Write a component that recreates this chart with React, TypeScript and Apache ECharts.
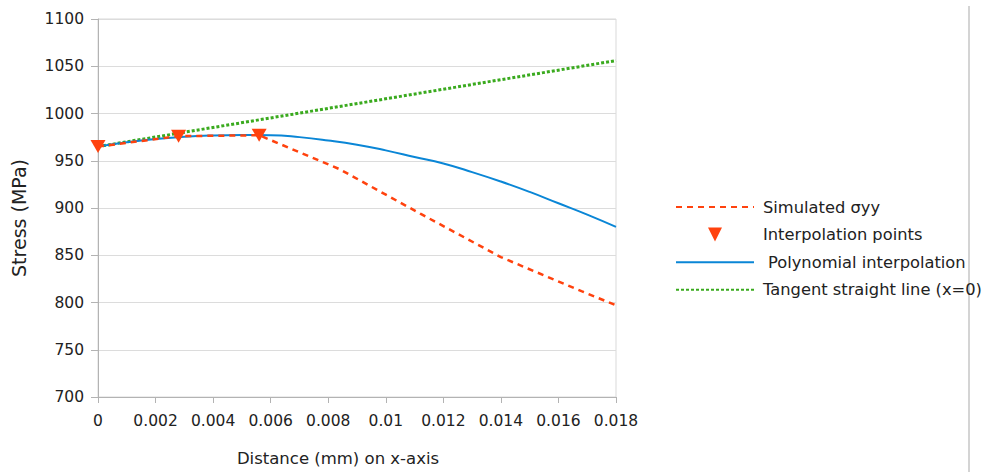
import React, { useEffect, useRef } from "react";
import * as echarts from "echarts";

const xTicks = [0, 0.002, 0.004, 0.006, 0.008, 0.01, 0.012, 0.014, 0.016, 0.018];
const simX = [0, 0.0028, 0.0056, 0.0084, 0.0112, 0.014, 0.0168, 0.018];
const simY = [965, 976, 977, 941, 894, 848, 812, 797];
const interpX = [0, 0.0028, 0.0056];
const interpY = [965, 976, 977];
const polyX = [0, 0.001, 0.002, 0.003, 0.004, 0.005, 0.006, 0.007, 0.008, 0.009, 0.01, 0.011, 0.012, 0.013, 0.014, 0.015, 0.016, 0.017, 0.018];
const polyY = [965, 969.5, 973, 975.5, 976.8, 977.2, 977, 975, 971.5, 967, 961, 954, 947, 938, 928, 917, 905, 893, 880];
const tanX = [0, 0.018];
const tanY = [965, 1056];

const seriesNames = [
  "Simulated σyy",
  "Interpolation points",
  "Polynomial interpolation",
  "Tangent straight line (x=0)",
];

const zip = (xs: number[], ys: number[]) => xs.map((x, i) => [x, ys[i]]);
const FONT = "DejaVu Sans";

export default function App() {
  const ref = useRef<HTMLDivElement>(null);
  useEffect(() => {
    if (!ref.current) return;
    const chart = echarts.init(ref.current, null, { renderer: "svg" });
    chart.setOption({
      animation: false,
      backgroundColor: "#ffffff",
      grid: {
        left: 98,
        right: 370,
        top: 19,
        bottom: 75,
        show: true,
        borderColor: "#d9d9d9",
        borderWidth: 1,
        backgroundColor: "transparent",
      },
      legend: {
        orient: "vertical",
        left: 675,
        top: 199,
        itemWidth: 78,
        itemHeight: 14,
        itemGap: 11.6,
        padding: 0,
        textStyle: { fontFamily: FONT, fontSize: 16.3, color: "#222", padding: [0, 0, 0, 4] },
        data: [
          { name: seriesNames[0], itemStyle: { opacity: 0 } },
          { name: seriesNames[1], icon: "path://M0,0 L12,0 L6,12 Z" },
          { name: seriesNames[2], itemStyle: { opacity: 0 }, textStyle: { padding: [0, 0, 0, 9] } },
          { name: seriesNames[3], itemStyle: { opacity: 0 } },
        ],
      },
      xAxis: {
        type: "value",
        min: 0,
        max: 0.018,
        interval: 0.002,
        name: "Distance (mm) on x-axis",
        nameLocation: "middle",
        nameGap: 53,
        nameTextStyle: { fontFamily: FONT, fontSize: 16.5, color: "#222", padding: [0, 38, 0, 0] },
        axisLine: { show: true, lineStyle: { color: "#b3b3b3", width: 1 } },
        axisTick: { show: true, length: 6, lineStyle: { color: "#b3b3b3" } },
        axisLabel: {
          fontFamily: FONT,
          fontSize: 15.5,
          color: "#222",
          margin: 16,
          formatter: (v: number) => {
            const t = xTicks.find((k) => Math.abs(k - v) < 1e-9);
            return String(t !== undefined ? +t.toFixed(3) : +v.toFixed(3));
          },
        },
        splitLine: { show: false },
      },
      yAxis: {
        type: "value",
        min: 700,
        max: 1100,
        interval: 50,
        name: "Stress (MPa)",
        nameLocation: "middle",
        nameGap: 70,
        nameTextStyle: { fontFamily: FONT, fontSize: 19, color: "#222", padding: [0, 20, 0, 0] },
        axisLine: { show: true, lineStyle: { color: "#b3b3b3", width: 1 } },
        axisTick: { show: true, length: 7, lineStyle: { color: "#b3b3b3" } },
        axisLabel: {
          fontFamily: FONT,
          fontSize: 15.5,
          color: "#222",
          margin: 14,
          formatter: (v: number) => String(v),
        },
        splitLine: { show: true, lineStyle: { color: "#dcdcdc", width: 1 } },
      },
      series: [
        {
          name: seriesNames[3],
          type: "line",
          data: zip(tanX, tanY),
          symbol: "none",
          z: 2,
          color: "#3aaa1e",
          lineStyle: { color: "#3aaa1e", width: 3, type: [3, 2] },
        },
        {
          name: seriesNames[2],
          type: "line",
          data: zip(polyX, polyY),
          symbol: "none",
          smooth: true,
          z: 3,
          color: "#0a86d6",
          lineStyle: { color: "#0a86d6", width: 2 },
        },
        {
          name: seriesNames[0],
          type: "line",
          data: zip(simX, simY),
          symbol: "none",
          z: 4,
          color: "#ff420e",
          lineStyle: { color: "#ff420e", width: 2.5, type: [6, 5] },
        },
        {
          name: seriesNames[1],
          type: "scatter",
          data: zip(interpX, interpY),
          symbol: "triangle",
          symbolRotate: 180,
          symbolSize: [15, 13],
          z: 5,
          itemStyle: { color: "#ff420e", opacity: 1 },
        },
      ],
      graphic: [
        {
          type: "line",
          shape: { x1: 969, y1: 6, x2: 969, y2: 472 },
          style: { stroke: "#d4d4d4", lineWidth: 2 },
        },
      ],
    });
    return () => chart.dispose();
  }, []);
  return (
    <div
      ref={ref}
      style={{ position: "fixed", left: 0, top: 0, width: 986, height: 472, background: "#fff" }}
    />
  );
}
